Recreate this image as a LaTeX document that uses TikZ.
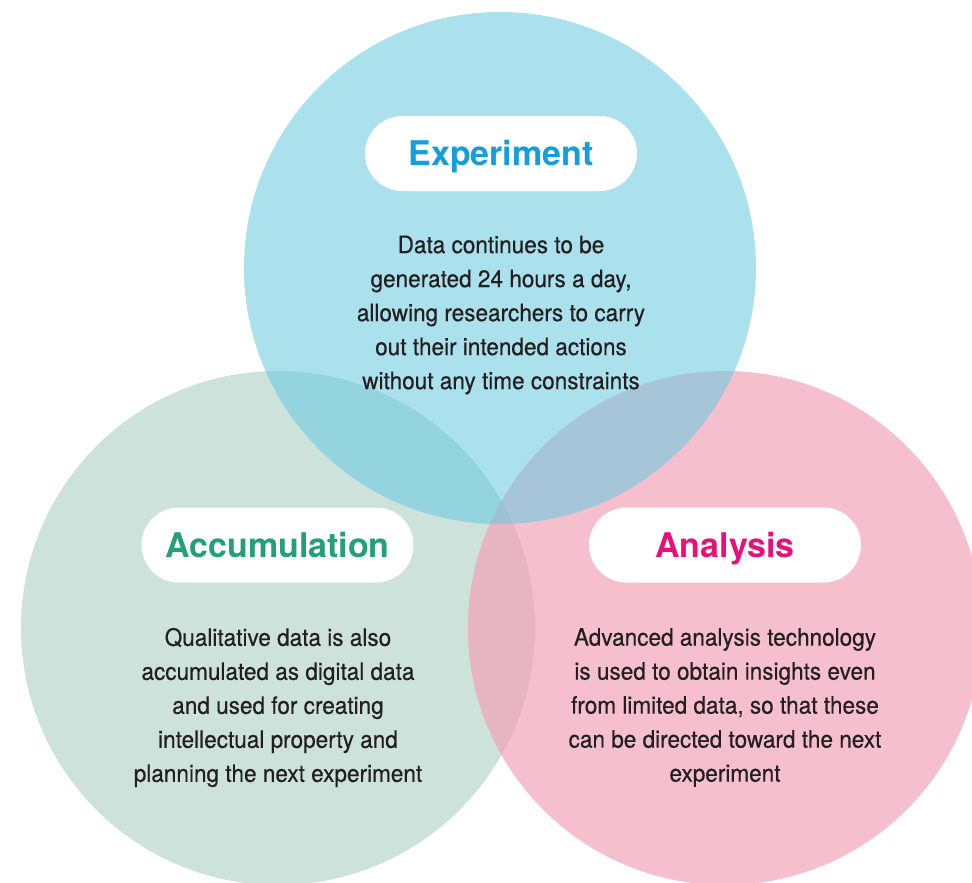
\documentclass[tikz,border=0pt]{standalone}
\usepackage{fontspec}
\setmainfont{TeX Gyre Heros}
\newfontfamily\headfont{TeX Gyre Heros}
\newfontfamily\bodyfont[FakeStretch=0.94,FakeBold=0.4]{TeX Gyre Heros}
\definecolor{cyanC}{HTML}{AAE1ED}
\definecolor{greenC}{HTML}{CDE2DB}
\definecolor{pinkC}{HTML}{F6BFCE}
\definecolor{TLC}{HTML}{94D4DE}
\definecolor{TRC}{HTML}{A7C5D8}
\definecolor{LRC}{HTML}{E6B4C3}
\definecolor{TLRC}{HTML}{9DC3D2}
\definecolor{expC}{HTML}{149FDC}
\definecolor{accC}{HTML}{23A07A}
\definecolor{anaC}{HTML}{E8117A}
\definecolor{txtC}{HTML}{231F20}
\tikzset{
  pill/.style={fill=white, minimum width=272pt, minimum height=75pt, rounded corners=37.5pt, inner sep=0pt, text height=24pt, text depth=0pt, font=\headfont\bfseries\fontsize{34}{36}\selectfont},
  bodytext/.style={align=center, text=txtC, inner sep=0pt, font=\bodyfont\fontsize{24}{34}\selectfont}
}
\begin{document}
\begin{tikzpicture}[x=1pt,y=-1pt]
\clip (0,0) rectangle (972,883);
\fill[white] (0,0) rectangle (972,883);
% base circles
\fill[greenC] (278,628) circle[radius=257];
\fill[pinkC] (725,628) circle[radius=257];
\begin{scope}
  \clip (278,628) circle[radius=257];
  \fill[LRC] (725,628) circle[radius=257];
\end{scope}
\fill[cyanC] (500,268) circle[radius=256];
\begin{scope}
  \clip (500,268) circle[radius=256];
  \fill[TLC] (278,628) circle[radius=257];
  \fill[TRC] (725,628) circle[radius=257];
  \clip (278,628) circle[radius=257];
  \fill[TLRC] (725,628) circle[radius=257];
\end{scope}
% headings
\node[pill, text=expC] (exphead) at (501,153.5) {Experiment};
\node[pill, text=accC] (acchead) at (277.5,545) {Accumulation};
\node[pill, text=anaC] (anahead) at (725,545) {Analysis};
% body texts
\node[bodytext] (exptext) at (501,315) {Data continues to be\\generated 24 hours a day,\\allowing researchers to carry\\out their intended actions\\without any time constraints};
\node[bodytext] (acctext) at (278,707.5) {Qualitative data is also\\accumulated as digital data\\and used for creating\\intellectual property and\\planning the next experiment};
\node[bodytext] (anatext) at (725,707.5) {Advanced analysis technology\\is used to obtain insights even\\from limited data, so that these\\can be directed toward the next\\experiment};
\end{tikzpicture}
\end{document}
